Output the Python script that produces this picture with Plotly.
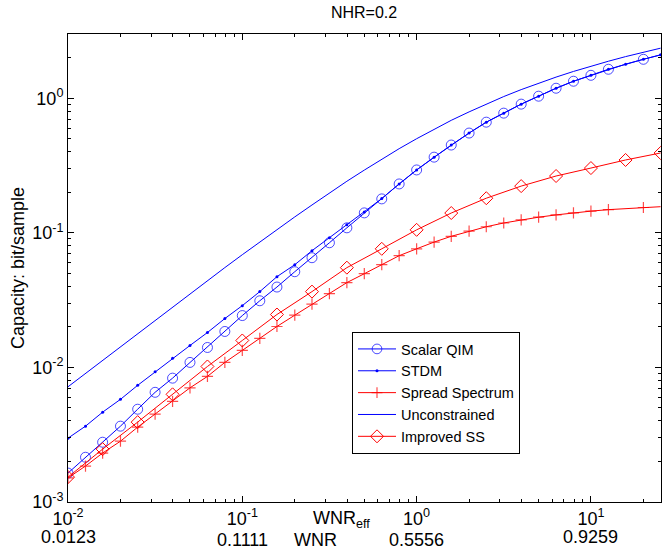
import plotly.graph_objects as go

# WNR_eff grid (x values, log spaced)
wnr_eff = [0.01, 0.0126, 0.0158, 0.02, 0.0251, 0.0316, 0.0398, 0.0501, 0.0631, 0.0794,
           0.1, 0.126, 0.158, 0.2, 0.251, 0.316, 0.398, 0.501, 0.631, 0.794,
           1.0, 1.26, 1.58, 2.0, 2.51, 3.16, 3.98, 5.01, 6.31, 7.94,
           10.0, 12.6, 15.8, 20.0, 25.1]

unconstrained = [0.00718, 0.00902, 0.01134, 0.01425, 0.0179, 0.02246, 0.02816, 0.03528, 0.04414, 0.05514,
                 0.06875, 0.08553, 0.10614, 0.13123, 0.16093, 0.1982, 0.24154, 0.29233, 0.35286, 0.42172,
                 0.5, 0.58782, 0.68505, 0.79134, 0.90612, 1.02868, 1.15822, 1.2939, 1.43489, 1.5804,
                 1.72972, 1.8822, 2.03729, 2.19453, 2.35351]

stdm = [0.00298, 0.00366, 0.00465, 0.00579, 0.00736, 0.00927, 0.01167, 0.01455, 0.01816, 0.02307,
        0.02877, 0.03656, 0.04721, 0.05794, 0.07362, 0.09183, 0.11455, 0.14256, 0.17947, 0.23067,
        0.29309, 0.36475, 0.44875, 0.55081, 0.66374, 0.77446, 0.90365, 1.0351, 1.1858, 1.3366,
        1.4791, 1.6406, 1.7906, 1.9454, 2.0989]

qim_x = [0.01, 0.0126, 0.0158, 0.02, 0.0251, 0.0316, 0.0398, 0.0501, 0.0631, 0.0794,
         0.1, 0.126, 0.158, 0.2, 0.251, 0.316, 0.398, 0.501, 0.631, 0.794,
         1.0, 1.26, 1.58, 2.0, 2.51, 3.16, 3.98, 5.01, 6.31, 7.94,
         10.0, 12.6, 20.0, 25.1]
scalar_qim = [0.00164, 0.00215, 0.00278, 0.00366, 0.00489, 0.00653, 0.00832, 0.01089, 0.01406, 0.01849,
              0.02427, 0.03126, 0.03954, 0.0514, 0.06531, 0.08433, 0.10889, 0.1406, 0.17865, 0.23067,
              0.29309, 0.36475, 0.44875, 0.55081, 0.66374, 0.77446, 0.90365, 1.0351, 1.1858, 1.3366,
              1.4791, 1.6406, 1.9454, 2.0989]

ss_x = qim_x
spread_spectrum = [0.00151, 0.00185, 0.00231, 0.00283, 0.0036, 0.00449, 0.0056, 0.00705, 0.00857, 0.01089,
                   0.01337, 0.01641, 0.02014, 0.02443, 0.02951, 0.03532, 0.04266, 0.04966, 0.05794, 0.06761,
                   0.07603, 0.08531, 0.09419, 0.1028, 0.11092, 0.1183, 0.12474, 0.13062, 0.13583, 0.1406,
                   0.14488, 0.14859, 0.15417, 0.15631]

iss_x = [0.01, 0.0158, 0.0251, 0.0398, 0.0631, 0.1, 0.158, 0.251, 0.398, 0.631,
         1.0, 1.58, 2.51, 3.98, 6.31, 10.0, 15.8, 25.1]
improved_ss = [0.00153, 0.00247, 0.00392, 0.00631, 0.01016, 0.01585, 0.02472, 0.03656, 0.05508, 0.07603,
               0.1052, 0.14028, 0.18072, 0.22233, 0.26424, 0.30269, 0.34754, 0.39174]

x_tickvals = [0.01, 0.1, 1, 10]
x_ticktext = ["10<sup>-2</sup>", "10<sup>-1</sup>", "10<sup>0</sup>", "10<sup>1</sup>"]
wnr_labels = ["0.0123", "0.1111", "0.5556", "0.9259"]
y_tickvals = [0.001, 0.01, 0.1, 1]
y_ticktext = ["10<sup>-3</sup>", "10<sup>-2</sup>", "10<sup>-1</sup>", "10<sup>0</sup>"]

BLUE = "rgb(0,0,255)"
RED = "rgb(255,0,0)"
FONT = "Liberation Sans, Arial, Helvetica, sans-serif"

# plot-area geometry (pixels)
L, R, T, B = 68, 1, 34, 54
W, H = 662, 556
PW, PH = W - L - R, H - T - B


def py(pix_y):
    """pixel row -> paper y"""
    return (H - B - pix_y) / PH


def px(pix_x):
    return (pix_x - L) / PW


fig = go.Figure()

qim_sizes = [10] * len(scalar_qim)
qim_sizes[-1] = 0
ss_sizes = [8] * len(spread_spectrum)
ss_sizes[-1] = 0

fig.add_trace(go.Scatter(x=qim_x, y=scalar_qim, name="Scalar QIM", mode="lines+markers",
                         line=dict(color=BLUE, width=1),
                         marker=dict(symbol="circle-open", size=qim_sizes, color=BLUE,
                                     line=dict(width=1, color=BLUE))))
fig.add_trace(go.Scatter(x=wnr_eff, y=stdm, name="STDM", mode="lines+markers",
                         line=dict(color=BLUE, width=1),
                         marker=dict(symbol="circle", size=3, color=BLUE)))
fig.add_trace(go.Scatter(x=ss_x, y=spread_spectrum, name="Spread Spectrum", mode="lines+markers",
                         line=dict(color=RED, width=1),
                         marker=dict(symbol="cross-thin-open", size=ss_sizes, color=RED,
                                     line=dict(width=1.2, color=RED))))
fig.add_trace(go.Scatter(x=wnr_eff, y=unconstrained, name="Unconstrained", mode="lines",
                         line=dict(color=BLUE, width=1)))
fig.add_trace(go.Scatter(x=iss_x, y=improved_ss, name="Improved SS", mode="lines+markers",
                         line=dict(color=RED, width=1),
                         marker=dict(symbol="diamond-open", size=10, color=RED,
                                     line=dict(width=1, color=RED))))

axis_common = dict(type="log", showgrid=False, zeroline=False, showline=True,
                   linecolor="black", linewidth=1, mirror="allticks", automargin=False,
                   ticks="inside", ticklen=6, tickcolor="black",
                   minor=dict(ticks="inside", ticklen=3, tickcolor="black", dtick="D1", showgrid=False))

fig.update_xaxes(**axis_common, range=[-2, 1.402], tickvals=x_tickvals, ticktext=x_ticktext,
                 tickfont=dict(family=FONT, size=18, color="black"))
fig.update_yaxes(**axis_common, range=[-3, 0.477], tickvals=y_tickvals, ticktext=y_ticktext,
                 tickfont=dict(family=FONT, size=18, color="black"), ticklabelstandoff=0)

# second row of x labels: WNR values under each WNR_eff decade
wnr_rows = [537, 540, 540, 537]
decades = [-2, -1, 0, 1]
for dec, lab, ry in zip(decades, wnr_labels, wnr_rows):
    fig.add_annotation(text=lab, xref="x", yref="paper", x=dec,
                       y=py(ry), xanchor="center", yanchor="middle", showarrow=False,
                       font=dict(family=FONT, size=18, color="black"))

fig.add_annotation(text="WNR<sub>eff</sub>", xref="paper", yref="paper", x=px(341), y=py(519),
                   xanchor="center", yanchor="middle", showarrow=False,
                   font=dict(family=FONT, size=18, color="black"))
fig.add_annotation(text="WNR", xref="paper", yref="paper", x=px(315), y=py(540),
                   xanchor="center", yanchor="middle", showarrow=False,
                   font=dict(family=FONT, size=18, color="black"))
fig.add_annotation(text="Capacity: bit/sample", xref="paper", yref="paper", x=px(18), y=0.5,
                   xanchor="center", yanchor="middle", textangle=-90, showarrow=False,
                   font=dict(family=FONT, size=18, color="black"))

fig.update_layout(
    width=W, height=H,
    margin=dict(l=L, r=R, t=T, b=B),
    paper_bgcolor="white", plot_bgcolor="white",
    title=dict(text="NHR=0.2", x=364 / W, xanchor="center", xref="container",
               y=1 - 12 / H, yref="container", yanchor="middle",
               font=dict(family=FONT, size=16, color="black")),
    font=dict(family=FONT, color="black"),
    legend=dict(x=px(352), y=py(332), xanchor="left", yanchor="top",
                bgcolor="white", bordercolor="black", borderwidth=1,
                font=dict(family=FONT, size=14.5, color="black"),
                itemwidth=38, tracegroupgap=0),
    showlegend=True,
)

fig.write_html("out.html", config={"displayModeBar": False},
               post_script="document.body.style.margin='0px';")
